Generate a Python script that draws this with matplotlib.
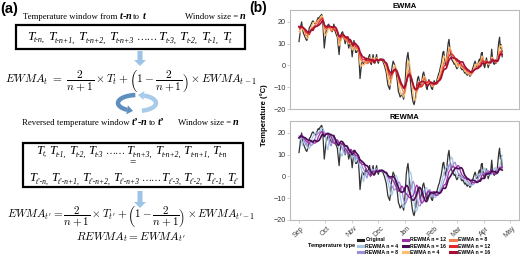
import matplotlib
matplotlib.use("Agg")
import matplotlib.pyplot as plt
import matplotlib.patches as mpatches
from matplotlib.lines import Line2D
import numpy as np
import pandas as pd

# daily temperature (late Aug only feeds the windows)
aug_tail = [18, 19, 20, 19, 18, 17, 18, 19, 20, 21, 20, 19, 18, 19, 20, 18]
sep = [11, 14, 18, 20, 17, 15, 14, 13, 12, 11.5, 13, 15.5, 17.5, 18, 19, 20, 20.5, 20,
       19.5, 19, 20, 21, 22, 21.5, 22.5, 23, 23.5, 22, 15, 8]
oct_ = [12, 15.5, 17, 18.5, 19, 18, 17, 16, 15.5, 17, 19, 17, 15, 14, 13, 9, 5, 10, 14,
        15, 15.5, 14, 12, 10, 11.5, 13, 11, 8, 9.5, 12, 8]
nov = [4, 8, 11.5, 9, 6, 6, 7, 7.5, 2, -6, -2, 1, 2, 1, 0.5, 2, 3.5, 2, 1, 4, 5, 1, 0.5,
       3, 5, 2, 1, 3, 5, 2]
dec = [1, 2.5, 3, 3, 3, 2, 1, 0, -1.5, -3, -6, -9, -10, -11, -8, -3, 0, 2, 1, 0, -2, -5,
       -8, -12, -13, -14.5, -14, -13, -14, -15.5, -12]
jan = [-6, 1, 4, 6, 2, -3, -8, -12, -15, -17, -18, -16, -14, -9, -6, -5, -7, -10, -9, -7,
       -4, -3, -5, -7.5, -10, -11, -8, -6.5, -7.5, -9, -10.5]
feb = [-11, -9, -7, -8, -8.5, -7, -5.5, -4, -3, -1, 0.5, 3, 6, 6.5, 3, 0, 2, 6, 10, 12, 8,
       5.5, 3, 2, 1.5, 0.5, 1, -0.5]
mar = [-1.5, -1, 0.5, 1, 0, -1.5, -2, -1.5, -2.5, -3.5, -3, -4, -4.5, -3.5, -4, -5, -4.5,
       -3, -1.5, -0.5, 1, 2, 0.5, -1, 0, 2, 3, 1, 5.5, 6, 2.5]
apr = [0, -1, 1.5, 3.5, 1, -1, 0.5, 1.5, 3, 7.5, 3, 1, 0.5, 1.5, 1, 2, 6, 10.5, 13, 8,
       9.5, 4]

windows = [4, 8, 12, 16]
ewma_colors = ["#FDBF6F", "#F47C4C", "#E0292B", "#A50F35"]
rewma_colors = ["#A6C8E6", "#9E8ED6", "#9C2FA6", "#4A0D55"]
months = ["Sep", "Oct", "Nov", "Dec", "Jan", "Feb", "Mar", "Apr", "May"]

# subscripts of the window boxes in panel (a)
win_subs = ["t-n,", "t-n+1,", "t-n+2,", "t-n+3", "...", "t-3,", "t-2,", "t-1,", "t"]
rev_subs = ["t,", "t-1,", "t-2,", "t-3", "...", "t-n+3,", "t-n+2,", "t-n+1,", "t-n"]
rev_subs2 = ["t\u2019-n,", "t\u2019-n+1,", "t\u2019-n+2,", "t\u2019-n+3", "...",
             "t\u2019-3,", "t\u2019-2,", "t\u2019-1,", "t\u2019"]


def ewma(series, n, reverse=False):
    """EWMA over the window t-n..t, or over the reversed window (REWMA)"""
    a = 2 / (n + 1)
    out = np.empty(len(series))
    for t in range(len(series)):
        w = series[max(0, t - n):t + 1]
        if reverse:
            w = w[::-1]
        e = w[0]
        for v in w[1:]:
            e = a * v + (1 - a) * e
        out[t] = e
    return out


temps = np.array(aug_tail + sep + oct_ + nov + dec + jan + feb + mar + apr, dtype=float)
skip = len(aug_tail)
dates = pd.date_range("2017-09-01", periods=len(temps) - skip, freq="D")

fig = plt.figure(figsize=(5.2, 2.56), dpi=100)
bg = fig.add_axes([0, 0, 1, 1])
bg.set_xlim(0, 520)
bg.set_ylim(256, 0)
bg.axis("off")
renderer = fig.canvas.get_renderer()

serif = "Liberation Serif"
sans = "Liberation Sans"
reg = dict(family=serif, fontsize=6.3)
bi = dict(family=serif, fontsize=7.4, fontweight="bold", style="italic")
bb = dict(family=serif, fontsize=7.4, fontweight="bold")


def width(t):
    return t.get_window_extent(renderer).width


def chain(x, y, parts):
    for s, kw, gap in parts:
        t = bg.text(x, y, s, va="baseline", **kw)
        x += width(t) + gap


def t_row(xc, y, subs, size, subsize, gap):
    """row of T with subscripts, centred on xc"""
    texts = []
    x = 0
    for s in subs:
        if s == "...":
            t = bg.text(x, y, "\u2026\u2026", va="baseline", family=serif, fontsize=size * 0.8)
            texts.append(t)
            x += width(t)
            continue
        t = bg.text(x, y, "T", va="baseline", family=serif, style="italic", fontsize=size)
        texts.append(t)
        x += width(t) - 0.5
        t = bg.text(x, y + size * 0.28, s, va="baseline", family=serif, style="italic",
                    fontsize=subsize)
        texts.append(t)
        x += width(t) + gap
    shift = xc - x / 2
    for t in texts:
        t.set_x(t.get_position()[0] + shift)


def loop_arrow(cx, cy, rx, ry, a0, a1, color):
    th = np.radians(np.linspace(a0, a1, 40))
    xs = cx + rx * np.cos(th)
    ys = cy - ry * np.sin(th)
    bg.plot(xs[:-4], ys[:-4], color=color, lw=3.2, solid_capstyle="butt")
    d = np.array([xs[-1] - xs[-5], ys[-1] - ys[-5]])
    d = d / np.hypot(*d)
    nrm = np.array([-d[1], d[0]])
    base = np.array([xs[-5], ys[-5]])
    tip = base + d * 6
    bg.add_patch(mpatches.Polygon([tip, base + nrm * 4.5, base - nrm * 4.5],
                                  color=color, lw=0))


# ---- panel (a)
bg.text(0, 9, "(a)", family=sans, fontsize=10.5, fontweight="bold", va="center")
chain(23, 19, [("Temperature window from", reg, 2), ("t", bi, 0), ("-", bb, 0),
               ("n", bi, 2), ("to", reg, 2), ("t", bi, 0)])
chain(185, 19, [("Window size =", reg, 2), ("n", bi, 0)])
bg.add_patch(mpatches.Rectangle((16, 25), 229, 24, fill=False, lw=1.6, ec="black"))
t_row(130.5, 40, win_subs, 9.6, 5.8, 3.2)
bg.add_patch(mpatches.FancyArrow(140, 51, 0, 15, width=5, head_width=12, head_length=6,
                                 length_includes_head=True, color="#9DC3E6", lw=0))
bg.text(131, 81, r"$EWMA_t\ =\ \dfrac{2}{n+1}\times T_t+\left(1-\dfrac{2}{n+1}\right)"
        r"\times EWMA_{t-1}$", fontsize=8.2, math_fontfamily="cm", ha="center", va="center")

loop_arrow(137, 103, 19, 8, 95, 255, "#5E8FBF")
loop_arrow(137, 103, 19, 8, -75, 85, "#A9CBEA")

chain(22, 125, [("Reversed temperature window", reg, 2), ("t\u2019", bi, 0), ("-", bb, 0),
                ("n", bi, 2), ("to", reg, 2), ("t\u2019", bi, 0)])
chain(178, 125, [("Window size =", reg, 2), ("n", bi, 0)])
bg.add_patch(mpatches.Rectangle((23, 143), 220, 44, fill=False, lw=1.6, ec="black"))
t_row(133, 154, rev_subs, 9, 5.5, 2.8)
bg.text(133, 162, "=", fontsize=8, family=serif, ha="center", va="center")
t_row(135, 181, rev_subs2, 9, 5.5, 2.4)
bg.add_patch(mpatches.FancyArrow(140, 191, 0, 17, width=5, head_width=12, head_length=6,
                                 length_includes_head=True, color="#9DC3E6", lw=0))
bg.text(131, 217, r"$EWMA_{t^{\prime}}=\dfrac{2}{n+1}\times T_{t^{\prime}}+\left(1-\dfrac{2}{n+1}"
        r"\right)\times EWMA_{t^{\prime}-1}$", fontsize=8.0, math_fontfamily="cm",
        ha="center", va="center")
bg.text(131, 237, r"$REWMA_t = EWMA_{t^{\prime}}$", fontsize=8.2, math_fontfamily="cm",
        ha="center", va="center")

# ---- panel (b)
bg.text(249, 8, "(b)", family=sans, fontsize=10, fontweight="bold", va="center")

left, w_ax, h_ax = 290 / 520, 229 / 520, 99 / 256
ax_top = fig.add_axes([left, 1 - 109 / 256, w_ax, h_ax])
ax_bot = fig.add_axes([left, 1 - 220 / 256, w_ax, h_ax])

orig = temps[skip:]
handles = [Line2D([], [], color="#222222", lw=2.2)]
labels = ["Original"]
for ax, title, colors, rev in [(ax_top, "EWMA", ewma_colors, False),
                               (ax_bot, "REWMA", rewma_colors, True)]:
    ax.plot(dates, orig, color="#333333", lw=0.9)
    for n, c in zip(windows, colors):
        ax.plot(dates, ewma(temps, n, reverse=rev)[skip:], color=c,
                lw=1.2 if n == 16 else 0.9)
    ax.set_title(title, fontsize=5.5, fontweight="bold", family=sans, pad=1.5)
    ax.set_ylim(-20, 25.5)
    ax.set_yticks([-20, -10, 0, 10, 20])
    ax.set_xlim(pd.Timestamp("2017-09-01") - pd.Timedelta(days=10.3),
                pd.Timestamp("2018-05-01") + pd.Timedelta(days=10.3))
    ax.tick_params(axis="y", labelsize=5.2, length=2, width=0.5, colors="#BBBBBB",
                   labelcolor="#333333", pad=1)
    for s in ax.spines.values():
        s.set_color("#BBBBBB")
        s.set_linewidth(0.8)

for rev, colors in [(True, rewma_colors), (False, ewma_colors)]:
    for n, c in zip(windows, colors):
        handles.append(Line2D([], [], color=c, lw=2.2))
        labels.append(f"{'REWMA' if rev else 'EWMA'} n = {n}")

ax_top.set_xticks([])
ticks = pd.date_range("2017-09-01", periods=9, freq="MS")
ax_bot.set_xticks(ticks)
ax_bot.set_xticklabels(months, rotation=45, ha="center", va="top")
ax_bot.tick_params(axis="x", labelsize=5, length=2, width=0.5, colors="#BBBBBB",
                   labelcolor="#444444", pad=1.5)
for lab in ax_top.get_yticklabels() + ax_bot.get_yticklabels() + ax_bot.get_xticklabels():
    lab.set_family(sans)

bg.text(264, 115, "Temperature (\u00b0C)", rotation=90, family=sans, fontsize=5.5,
        fontweight="bold", ha="center", va="center")
bg.text(355, 246, "Temperature type", family=sans, fontsize=4.1, fontweight="bold",
        ha="right", va="center")
fig.legend(handles, labels, ncol=3, loc="center", bbox_to_anchor=(424 / 520, 1 - 246 / 256),
           frameon=False, prop=dict(family=sans, size=3.7, weight="bold"),
           handlelength=1.0, handletextpad=0.5, columnspacing=0.8, labelspacing=0.2,
           borderpad=0)

fig.savefig("out.png", dpi=100)
